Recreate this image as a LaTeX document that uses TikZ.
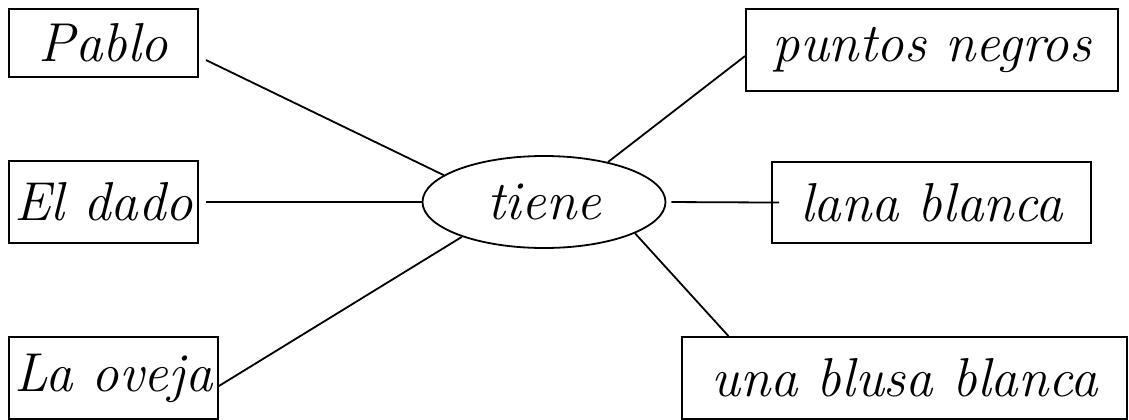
\documentclass[tikz,border=0pt]{standalone}
\usetikzlibrary{shapes.geometric}
\begin{document}
\begin{tikzpicture}[x=1bp,y=-1bp,
  wordbox/.style={draw,line width=1.8bp,rectangle,inner sep=0pt,
    font=\fontsize{55}{60}\selectfont\itshape},
  hub/.style={draw,line width=1.8bp,ellipse,inner sep=0pt,
    minimum width=243bp,minimum height=92bp,
    font=\fontsize{55}{60}\selectfont\itshape},
  link/.style={line width=1.8bp}]
\useasboundingbox (0,0) rectangle (1129,419);
\node[wordbox,minimum width=189bp,minimum height=68bp] (pablo) at (103.5,43) {Pablo};
\node[wordbox,minimum width=189bp,minimum height=82bp] (dado) at (103.5,202) {El dado};
\node[wordbox,minimum width=209bp,minimum height=82bp] (oveja) at (113.5,378) {La oveja};
\node[wordbox,minimum width=372bp,minimum height=82bp] (puntos) at (932,50) {puntos negros};
\node[wordbox,minimum width=319bp,minimum height=81bp] (lana) at (931.5,202.5) {lana blanca};
\node[wordbox,minimum width=445bp,minimum height=82bp] (blusa) at (904.5,378) {una blusa blanca};
\node[hub] (tiene) at (544,202) {tiene};
\draw[link] ([yshift=-17bp,xshift=7bp]pablo.east) -- (tiene.165.8);
\draw[link,shorten <=7bp] (dado.east) -- (tiene.west);
\draw[link] ([yshift=-8bp]oveja.east) -- (tiene.203);
\draw[link] ([yshift=-6bp]puntos.west) -- (tiene.32.6);
\draw[link,shorten <=5bp,shorten >=-8bp] (tiene.east) -- (lana.west);
\draw[link] (tiene.-19.8) -- ([xshift=-176bp]blusa.north);
\end{tikzpicture}
\end{document}
